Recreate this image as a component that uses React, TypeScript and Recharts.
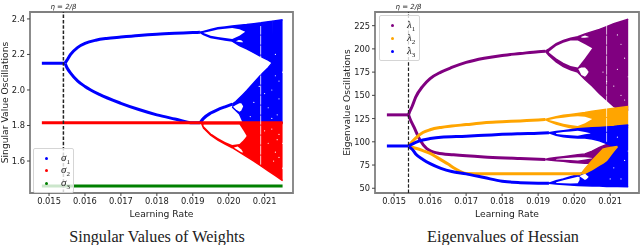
import React from 'react';
import {
  ComposedChart, Line, Area, Scatter, XAxis, YAxis, ReferenceLine, ReferenceArea, Legend,
} from 'recharts';

const lrTicks = [0.015, 0.016, 0.017, 0.018, 0.019, 0.02, 0.021];
const singularTicks = [1.6, 1.8, 2.0, 2.2, 2.4];
const eigenTicks = [50, 75, 100, 125, 150, 175, 200, 225];
const FONT = '"DejaVu Sans", sans-serif';

// ---- singular values: [lr, value]
const s1Stem = [[0.0148, 2.15], [0.0154, 2.15], [0.01545, 2.152]];
const s1Up = [[0.01545, 2.152], [0.0155, 2.168], [0.0156, 2.2], [0.0158, 2.24], [0.016, 2.262], [0.0163, 2.28], [0.0166, 2.29], [0.017, 2.298], [0.0175, 2.307], [0.018, 2.314], [0.0185, 2.319], [0.019, 2.323], [0.0192, 2.325]];
const s1Down = [[0.01545, 2.148], [0.0155, 2.125], [0.0156, 2.095], [0.0158, 2.05], [0.016, 2.02], [0.0164, 1.975], [0.017, 1.925], [0.0175, 1.89], [0.018, 1.86], [0.0185, 1.837], [0.019, 1.815], [0.0192, 1.815]];
const s1Rise = [[0.0192, 1.815], [0.0193, 1.84], [0.0195, 1.87], [0.0197, 1.89], [0.0199, 1.905], [0.0201, 1.92]];
// ---- [lr, low, high]
const s1TopBand = [[0.0192, 2.325, 2.325], [0.0193, 2.312, 2.33], [0.0195, 2.295, 2.34], [0.0197, 2.288, 2.35], [0.0199, 2.282, 2.355], [0.0201, 2.275, 2.36], [0.0203, 2.25, 2.364], [0.0205, 2.232, 2.368], [0.0207, 2.21, 2.373], [0.0209, 2.188, 2.378], [0.0211, 2.168, 2.384], [0.02122, 2.153, 2.387]];
const s1TopHole = [[0.0193, 2.321, 2.322], [0.0195, 2.305, 2.33], [0.0197, 2.298, 2.34], [0.0199, 2.292, 2.345], [0.0201, 2.287, 2.349], [0.0203, 2.305, 2.342], [0.02046, 2.328, 2.328]];
const s1Island = [[0.0202, 2.275, 2.275], [0.02028, 2.27, 2.282], [0.02035, 2.268, 2.28], [0.0204, 2.268, 2.27]];
const s1LowBand = [[0.0201, 1.905, 1.92], [0.0202, 1.885, 1.935], [0.0203, 1.865, 1.955], [0.0204, 1.82, 1.975], [0.0205, 1.815, 1.995], [0.0207, 1.815, 2.04], [0.0209, 1.815, 2.085], [0.0211, 1.815, 2.125], [0.02122, 1.815, 2.155], [0.02123, 1.815, 2.387], [0.0215, 1.815, 2.395]];
const s1LowIsland = [[0.02012, 1.905, 1.906], [0.0202, 1.89, 1.915], [0.0203, 1.878, 1.925], [0.02035, 1.885, 1.925], [0.0204, 1.905, 1.91]];
const s2Line = [[0.0148, 1.815], [0.0215, 1.815]];
const s2Band = [[0.01925, 1.81, 1.815], [0.0193, 1.785, 1.815], [0.0195, 1.745, 1.815], [0.0197, 1.718, 1.815], [0.0199, 1.695, 1.815], [0.0201, 1.675, 1.815], [0.0203, 1.65, 1.815], [0.0205, 1.625, 1.815], [0.0207, 1.6, 1.815], [0.0209, 1.572, 1.815], [0.0211, 1.545, 1.815], [0.0213, 1.518, 1.815], [0.0215, 1.49, 1.815]];
const s2Hole = [[0.0193, 1.797, 1.806], [0.0195, 1.757, 1.806], [0.0197, 1.73, 1.806], [0.0199, 1.707, 1.806], [0.0201, 1.69, 1.806], [0.0203, 1.696, 1.806], [0.0204, 1.716, 1.775], [0.02046, 1.73, 1.755], [0.0205, 1.741, 1.741]];
const s2Island = [[0.02015, 1.675, 1.676], [0.02025, 1.662, 1.682], [0.02035, 1.65, 1.665], [0.0204, 1.648, 1.65]];
const s3Line = [[0.0148, 1.46], [0.0215, 1.46]];
const singularSpeckle = [[0.02085, 2.02], [0.0206, 1.85], [0.0207, 1.93], [0.0211, 1.9], [0.0212, 2.0], [0.0213, 2.08], [0.0214, 1.95], [0.02135, 1.86], [0.0215, 2.1], [0.0212, 1.84], [0.0214, 2.05], [0.0213, 2.2], [0.021, 1.98], [0.0214, 1.75], [0.0213, 1.65], [0.0211, 1.7], [0.0212, 1.78], [0.0214, 1.62], [0.0215, 1.7], [0.02125, 1.6], [0.0215, 1.56], [0.021, 1.77], [0.02135, 1.72]];
const singularStreaks = [{ lr: 0.02089, lo: 1.58, hi: 2.36 }];

// ---- eigenvalues
const e1Stem = [[0.0148, 129], [0.0154, 129]];
const e1Up = [[0.0154, 129], [0.01545, 134], [0.0155, 138], [0.0156, 148], [0.0158, 160], [0.016, 168], [0.0163, 175], [0.0166, 180], [0.017, 185.5], [0.0175, 190], [0.018, 193], [0.0185, 195], [0.019, 197], [0.0192, 197.5]];
const e1Down = [[0.0154, 129], [0.01545, 124], [0.01555, 116], [0.01572, 102], [0.0159, 93], [0.0162, 88], [0.01665, 86], [0.0176, 83.5], [0.0185, 82], [0.0192, 81]];
const e1TopBand = [[0.0192, 197.5, 197.5], [0.0193, 193, 200], [0.0195, 186, 205.5], [0.0197, 181, 209], [0.0199, 177.5, 211.5], [0.0201, 175, 213], [0.0203, 167, 216], [0.0205, 160, 218.5], [0.0207, 152, 221], [0.0209, 145, 224], [0.0211, 138, 227], [0.0213, 134, 229.5], [0.0215, 134, 232]];
const e1TopHole = [[0.0193, 196, 197], [0.0195, 190, 203], [0.0197, 185, 206.5], [0.0199, 181.5, 209], [0.0201, 180, 209], [0.0203, 190, 205], [0.0205, 200.7, 200.7]];
const e1Islands = [[0.02012, 178, 178.5], [0.0202, 172, 180], [0.0203, 170, 180], [0.02035, 172, 178], [0.0204, 175, 175.5]];
const e1TopIsland = [[0.0202, 212, 213], [0.0203, 212, 214.5], [0.0204, 212.5, 213]];
const e1LowBand = [[0.0192, 81, 81], [0.0193, 80.5, 82], [0.0195, 79.5, 83], [0.0197, 79, 84], [0.0199, 78, 85], [0.0201, 77.5, 86], [0.0203, 77, 87], [0.0205, 77, 90], [0.0207, 85, 94], [0.0209, 90, 97], [0.0211, 93, 96.5], [0.0212, 95, 95]];
const e1LowHole = [[0.0195, 81, 81.5], [0.0197, 80.8, 82.3], [0.0199, 80.3, 82.8], [0.0201, 80, 83.5], [0.0203, 81, 83.5], [0.0205, 82.3, 82.5]];
const e2Up = [[0.0154, 96], [0.0155, 100], [0.0156, 104], [0.0158, 110], [0.016, 113], [0.0163, 115.5], [0.0166, 117], [0.017, 118.5], [0.0175, 120.5], [0.018, 121.5], [0.0185, 122.5], [0.019, 123.5], [0.0192, 124]];
const e2Band = [[0.0192, 124, 124], [0.0193, 122, 125], [0.0195, 119, 127], [0.0197, 117, 128.5], [0.0199, 115, 129.5], [0.0201, 113.5, 130.5], [0.0203, 115, 131.5], [0.0205, 115, 133], [0.0209, 115, 135], [0.0215, 115, 138]];
const e2Hole = [[0.0193, 123.4, 123.6], [0.0195, 121.5, 125], [0.0197, 119.5, 126], [0.0199, 118, 127], [0.0201, 117, 127.5], [0.0203, 120, 127], [0.0205, 124.5, 124.5]];
const e2Down = [[0.0154, 95], [0.0156, 93], [0.0158, 90.5], [0.016, 87.5], [0.0162, 83], [0.0165, 76], [0.0167, 71], [0.017, 66], [0.0175, 65.5], [0.019, 65.5], [0.0202, 65.5]];
const e2Wedge = [[0.0202, 65.5, 66], [0.0203, 66, 71], [0.0205, 70, 80], [0.0207, 75, 88], [0.0208, 77, 92], [0.0209, 80, 93], [0.0211, 90, 94.5], [0.0212, 94.7, 95]];
const e3Stem = [[0.0148, 95.5], [0.0154, 95.5]];
const e3Up = [[0.0154, 95.5], [0.0156, 99.5], [0.0158, 102], [0.016, 103.5], [0.0163, 105], [0.017, 106], [0.0175, 107], [0.018, 108], [0.0185, 108.7], [0.019, 109.2], [0.0193, 109.7]];
const e3TopBand = [[0.0193, 109.7, 109.7], [0.0195, 107, 111], [0.0197, 105.5, 112], [0.0199, 104.5, 113], [0.0201, 104, 114], [0.0203, 104, 114.5], [0.0205, 103, 115], [0.0207, 101, 115.5], [0.0209, 98, 116], [0.0211, 95, 116.5], [0.0212, 94, 117]];
const e3TopHole = [[0.0195, 108.5, 109.5], [0.0197, 107.5, 110.5], [0.0199, 107, 111], [0.0201, 106.5, 112], [0.0203, 108, 110.5], [0.02045, 109, 109.2]];
const e3Down = [[0.0154, 95], [0.0155, 92], [0.0156, 87], [0.0158, 81], [0.016, 76.5], [0.0163, 71.5], [0.0166, 68], [0.017, 65.5], [0.0175, 61.5], [0.018, 57.5], [0.0185, 56], [0.019, 55.5], [0.0193, 55.5]];
const e3LowBand = [[0.0193, 55.5, 55.5], [0.0195, 54.5, 58], [0.0197, 54, 60], [0.0199, 53.5, 62.5], [0.0201, 53, 64.5], [0.0203, 52.8, 68], [0.0205, 52.5, 74], [0.0207, 52.3, 78], [0.0209, 52, 81], [0.0211, 52, 92], [0.0212, 52, 95], [0.02121, 52, 117], [0.0215, 51.5, 118]];
const e3LowHole = [[0.0195, 55.7, 56.5], [0.0197, 55.5, 58.5], [0.0199, 55.2, 60.5], [0.0201, 55.5, 62.5], [0.02015, 59, 62]];
const e3Island = [[0.02015, 63, 63.2], [0.0203, 59, 66], [0.02035, 60, 64], [0.0204, 62, 62.3]];
const eigenSpeckle = [[0.0209, 165], [0.0211, 160], [0.0212, 178], [0.0213, 150], [0.0214, 190], [0.0215, 170], [0.0208, 175], [0.0214, 145], [0.0212, 215], [0.0213, 205], [0.0211, 72], [0.0213, 60], [0.0214, 80], [0.0212, 105], [0.0215, 90], [0.021, 60]];
const eigenStreaks = [
  { lr: 0.0209, lo: 140, hi: 225 },
  { lr: 0.0209, lo: 116, hi: 137 },
  { lr: 0.0209, lo: 100, hi: 116 },
];

const singularLegend = [
  { name: 'σ', sub: '1', color: '#0000ff' },
  { name: 'σ', sub: '2', color: '#ff0000' },
  { name: 'σ', sub: '3', color: '#008000' },
];
const eigenLegend = [
  { name: 'λ', sub: '1', color: '#800080' },
  { name: 'λ', sub: '2', color: '#ffa500' },
  { name: 'λ', sub: '3', color: '#0000ff' },
];

const BLUE = '#0000ff';
const RED = '#ff0000';
const GREEN = '#008000';
const PURPLE = '#800080';
const ORANGE = '#ffa500';

const toLine = (rows: number[][]) => rows.map(([x, v]) => ({ x, v }));
const toBand = (rows: number[][]) => rows.map(([x, lo, hi]) => ({ x, v: [lo, hi] }));
const toDots = (rows: number[][]) => rows.map(([x, y]) => ({ x, y }));

const branch = (key: string, rows: number[][], color: string, width = 3) => (
  <Line key={key} data={toLine(rows)} dataKey="v" type="monotone" stroke={color} strokeWidth={width} dot={false}
    activeDot={false} legendType="none" isAnimationActive={false} />
);
const band = (key: string, rows: number[][], color: string) => (
  <Area key={key} data={toBand(rows)} dataKey="v" type="linear" stroke={color} strokeWidth={1.5} fill={color}
    fillOpacity={1} activeDot={false} dot={false} legendType="none" isAnimationActive={false} />
);
const hole = (key: string, rows: number[][]) => (
  <Area key={key} data={toBand(rows)} dataKey="v" type="linear" stroke="none" fill="#ffffff"
    fillOpacity={1} activeDot={false} dot={false} legendType="none" isAnimationActive={false} />
);

const speck = (props: any) => <circle cx={props.cx} cy={props.cy} r={0.6} fill="#ffffff" />;

const legendBox = (items: typeof singularLegend, gap: number) => () => (
  <div style={{
    width: 41, boxSizing: 'border-box', padding: '3px 0 2px', background: 'rgba(255,255,255,0.8)',
    border: '1px solid #d5d5d5', borderRadius: 2,
  }}>
    {items.map(it => (
      <div key={it.sub} style={{ height: gap, display: 'flex', alignItems: 'center', position: 'relative' }}>
        <span style={{ position: 'absolute', left: 11, width: 3, height: 3, borderRadius: 2, background: it.color }} />
        <span style={{ position: 'absolute', left: 27, fontFamily: '"Liberation Serif", serif', fontStyle: 'italic', fontSize: 11, color: '#222' }}>
          {it.name}<sub style={{ fontSize: 7, fontStyle: 'normal' }}>{it.sub}</sub>
        </span>
      </div>
    ))}
  </div>
);

const tickStyle = { fontSize: 8.3, fontFamily: FONT, fill: '#222' };
const labelStyle = { fontSize: 9.2, fontFamily: FONT, fill: '#222' };

const frame = (xd: number[], yd: number[]) => (
  <ReferenceArea x1={xd[0]} x2={xd[1]} y1={yd[0]} y2={yd[1]} fill="none" stroke="#808080" strokeWidth={1.8} ifOverflow="visible" />
);
const etaLine = (width: number) => (
  <ReferenceLine x={0.0154} stroke="#222" strokeWidth={width} strokeDasharray="3.5 1.8"
    label={{ value: 'η = 2/β', position: 'top', offset: 3, fontSize: 7, fontStyle: 'italic', fontFamily: FONT, fill: '#222' }} />
);

const SingularChart = () => {
  const xd = [0.01447, 0.02179];
  const yd = [1.42, 2.439];
  return (
    <ComposedChart width={320} height={225} margin={{ top: 12, right: 27, bottom: 9, left: 0 }}>
      <XAxis type="number" dataKey="x" domain={xd} ticks={lrTicks} tickFormatter={(v: number) => v.toFixed(3)}
        allowDataOverflow tick={tickStyle} axisLine={false} tickLine={{ stroke: '#444' }} tickSize={3} height={23}
        label={{ value: 'Learning Rate', position: 'insideBottom', offset: -1, style: labelStyle }} />
      <YAxis type="number" dataKey="y" domain={yd} ticks={singularTicks} tickFormatter={(v: number) => v.toFixed(1)}
        allowDataOverflow tick={tickStyle} axisLine={false} tickLine={{ stroke: '#444' }} tickSize={3} width={30}
        label={{ value: 'Singular Value Oscillations', angle: -90, position: 'insideLeft', offset: 5, style: { ...labelStyle, textAnchor: 'middle' } }} />
      {band('s1TopBand', s1TopBand, BLUE)}
      {hole('s1TopHole', s1TopHole)}
      {hole('s1Island', s1Island)}
      {band('s1LowBand', s1LowBand, BLUE)}
      {hole('s1LowIsland', s1LowIsland)}
      {band('s2Band', s2Band, RED)}
      {hole('s2Hole', s2Hole)}
      {hole('s2Island', s2Island)}
      {branch('s1Stem', s1Stem, BLUE)}
      {branch('s1Up', s1Up, BLUE)}
      {branch('s1Down', s1Down, BLUE)}
      {branch('s1Rise', s1Rise, BLUE)}
      {branch('s2Line', s2Line, RED)}
      {branch('s3Line', s3Line, GREEN)}
      <Scatter data={toDots(singularSpeckle)} shape={speck} legendType="none" isAnimationActive={false} />
      {singularStreaks.map((s, i) => (
        <ReferenceLine key={i} segment={[{ x: s.lr, y: s.lo }, { x: s.lr, y: s.hi }]} stroke="#ffffff" strokeOpacity={0.8} strokeWidth={1} strokeDasharray="9 1" />
      ))}
      {etaLine(1.5)}
      {frame(xd, yd)}
      <Legend layout="horizontal" align="center" verticalAlign="middle" content={legendBox(singularLegend, 12.5)}
        wrapperStyle={{ position: 'absolute', left: 33, top: 148, width: 41 }} />
    </ComposedChart>
  );
};

const EigenChart = () => {
  const xd = [0.01447, 0.0218];
  const yd = [44.9, 239.7];
  return (
    <ComposedChart width={320} height={225} margin={{ top: 12, right: 1, bottom: 9, left: 0 }}>
      <XAxis type="number" dataKey="x" domain={xd} ticks={lrTicks} tickFormatter={(v: number) => v.toFixed(3)}
        allowDataOverflow tick={tickStyle} axisLine={false} tickLine={{ stroke: '#444' }} tickSize={3} height={23}
        label={{ value: 'Learning Rate', position: 'insideBottom', offset: -1, style: labelStyle }} />
      <YAxis type="number" dataKey="y" domain={yd} ticks={eigenTicks}
        allowDataOverflow tick={tickStyle} axisLine={false} tickLine={{ stroke: '#444' }} tickSize={3} width={55}
        label={{ value: 'Eigenvalue Oscillations', angle: -90, position: 'insideLeft', offset: 27, style: { ...labelStyle, textAnchor: 'middle' } }} />
      {band('e1TopBand', e1TopBand, PURPLE)}
      {hole('e1TopHole', e1TopHole)}
      {hole('e1Islands', e1Islands)}
      {hole('e1TopIsland', e1TopIsland)}
      {band('e2Band', e2Band, ORANGE)}
      {hole('e2Hole', e2Hole)}
      {band('e1LowBand', e1LowBand, PURPLE)}
      {hole('e1LowHole', e1LowHole)}
      {band('e3TopBand', e3TopBand, BLUE)}
      {hole('e3TopHole', e3TopHole)}
      {band('e3LowBand', e3LowBand, BLUE)}
      {hole('e3LowHole', e3LowHole)}
      {hole('e3Island', e3Island)}
      {band('e2Wedge', e2Wedge, ORANGE)}
      {branch('e1Down', e1Down, PURPLE)}
      {branch('e2Down', e2Down, ORANGE)}
      {branch('e2Up', e2Up, ORANGE)}
      {branch('e1Stem', e1Stem, PURPLE)}
      {branch('e1Up', e1Up, PURPLE)}
      {branch('e3Stem', e3Stem, BLUE)}
      {branch('e3Up', e3Up, BLUE)}
      {branch('e3Down', e3Down, BLUE)}
      <Scatter data={toDots(eigenSpeckle)} shape={speck} legendType="none" isAnimationActive={false} />
      {eigenStreaks.map((s, i) => (
        <ReferenceLine key={i} segment={[{ x: s.lr, y: s.lo }, { x: s.lr, y: s.hi }]} stroke="#ffffff" strokeOpacity={0.7} strokeWidth={1} strokeDasharray="9 1" />
      ))}
      {etaLine(1.2)}
      {frame(xd, yd)}
      <Legend layout="horizontal" align="center" verticalAlign="middle" content={legendBox(eigenLegend, 13)}
        wrapperStyle={{ position: 'absolute', left: 59, top: 15, width: 41 }} />
    </ComposedChart>
  );
};

const captionStyle: React.CSSProperties = {
  position: 'absolute', top: 228, width: 320, textAlign: 'center',
  fontFamily: '"Liberation Serif", serif', fontSize: 16.2, color: '#222', lineHeight: '18px',
};

export default function App() {
  return (
    <div style={{ position: 'absolute', left: 0, top: 0, width: 640, height: 245, overflow: 'hidden', background: '#fff' }}>
      <div style={{ position: 'absolute', left: 0, top: 0, filter: 'blur(0.35px)' }}><SingularChart /></div>
      <div style={{ position: 'absolute', left: 320, top: 0, filter: 'blur(0.35px)' }}><EigenChart /></div>
      <div style={{ ...captionStyle, left: -3 }}>Singular Values of Weights</div>
      <div style={{ ...captionStyle, left: 343 }}>Eigenvalues of Hessian</div>
    </div>
  );
}
